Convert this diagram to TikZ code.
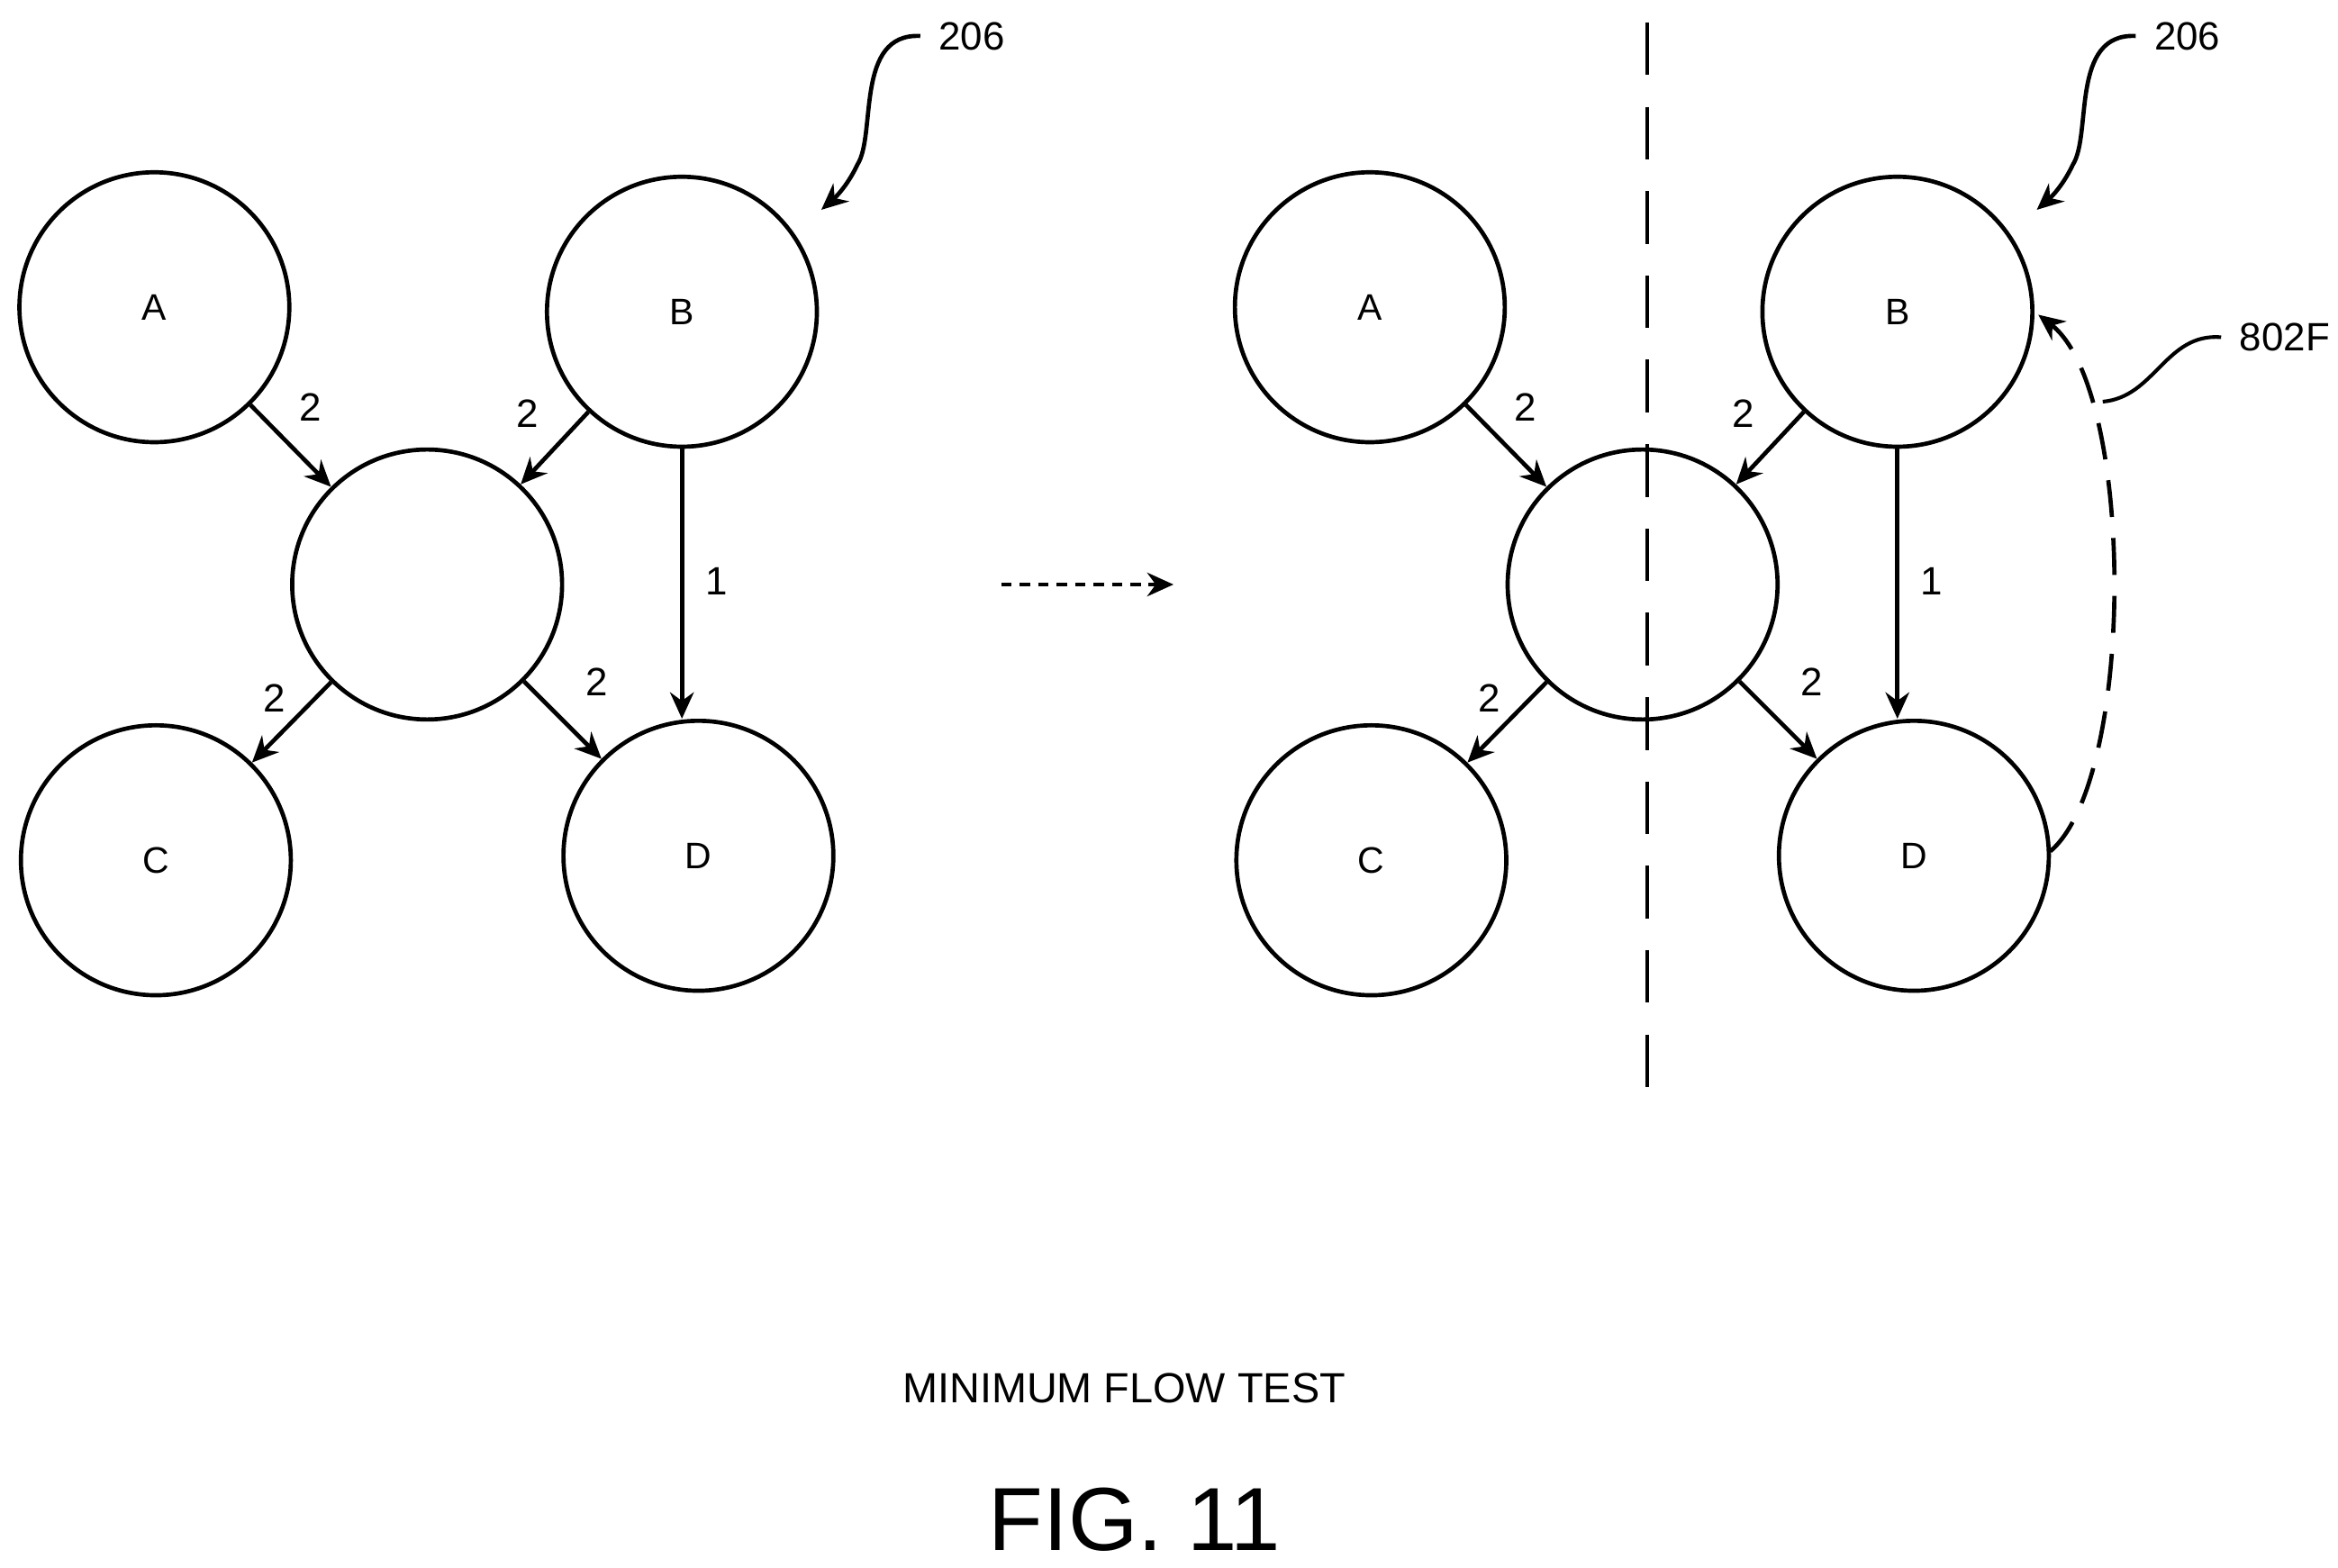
\documentclass[tikz,border=0pt]{standalone}
\usepackage{fontspec}
\setmainfont{Liberation Sans}
\usetikzlibrary{arrows.meta}
\begin{document}
\begin{tikzpicture}[x=0.01cm,y=-0.01cm,
  nd/.style={circle,draw,line width=0.8pt,minimum size=1.8cm,inner sep=0pt,font=\fontsize{7}{8}\selectfont},
  ed/.style={line width=0.8pt,-{Stealth[length=5pt,width=4.5pt]}},
  lb/.style={font=\fontsize{7.5}{9}\selectfont},
  ld/.style={line width=0.7pt}]
\useasboundingbox (0,0) rectangle (1560,1046);
\foreach \s/\o in {L/0,R/811}{
  \node[nd] (A\s) at (103+\o,205) {A};
  \node[nd] (B\s) at (455+\o,208) {B};
  \node[nd] (M\s) at (285+\o,390) {};
  \node[nd] (C\s) at (104+\o,574) {C};
  \node[nd] (D\s) at (466+\o,571) {D};
  \draw[ed] (A\s) -- (M\s);
  \draw[ed] (B\s) -- (M\s);
  \draw[ed] (M\s) -- (C\s);
  \draw[ed] (M\s) -- (D\s);
  \draw[ed] (B\s.south) -- (B\s.south |- D\s.north);
  \node[lb] at (207+\o,272) {2};
  \node[lb] at (352+\o,276) {2};
  \node[lb] at (183+\o,466) {2};
  \node[lb] at (398+\o,455) {2};
  \node[lb] at (478+\o,388) {1};
  \node[lb,anchor=west] (N\s) at (614+\o,24) {206};
  \coordinate (T\s) at (548+\o,140);
  \draw[ed] (N\s.west) .. controls (570+\o,22) and (585+\o,90) .. (572+\o,110) .. controls (565+\o,125) and (556+\o,133) .. (T\s);
}
\coordinate (DT) at (1099,15);
\coordinate (DB) at (1099,730);
\draw[line width=0.8pt,dash pattern=on 10pt off 6pt] (DT) -- (DB);
\coordinate (P1) at (668,390);
\coordinate (P2) at (783,390);
\draw[line width=0.7pt,dash pattern=on 2pt off 1.5pt,-{Stealth[length=5pt,width=4.5pt]}] (P1) -- (P2);
\coordinate (Q1) at (1368,568);
\coordinate (Q2) at (1360,210);
\draw[line width=0.8pt,dash pattern=on 7pt off 4pt,-{Stealth[length=5pt,width=4.5pt]}] (Q1) .. controls (1425,520) and (1425,260) .. (Q2);
\node[lb,anchor=west] (F) at (1482,225) {802F};
\coordinate (Fe) at (1403,268);
\draw[ld] (F.west) .. controls (1445,222) and (1438,265) .. (Fe);
\node[font=\fontsize{8}{10}\selectfont] (t1) at (750,926) {MINIMUM FLOW TEST};
\node[font=\fontsize{17}{20}\selectfont] (t2) at (757,1014) {FIG. 11};
\end{tikzpicture}
\end{document}
